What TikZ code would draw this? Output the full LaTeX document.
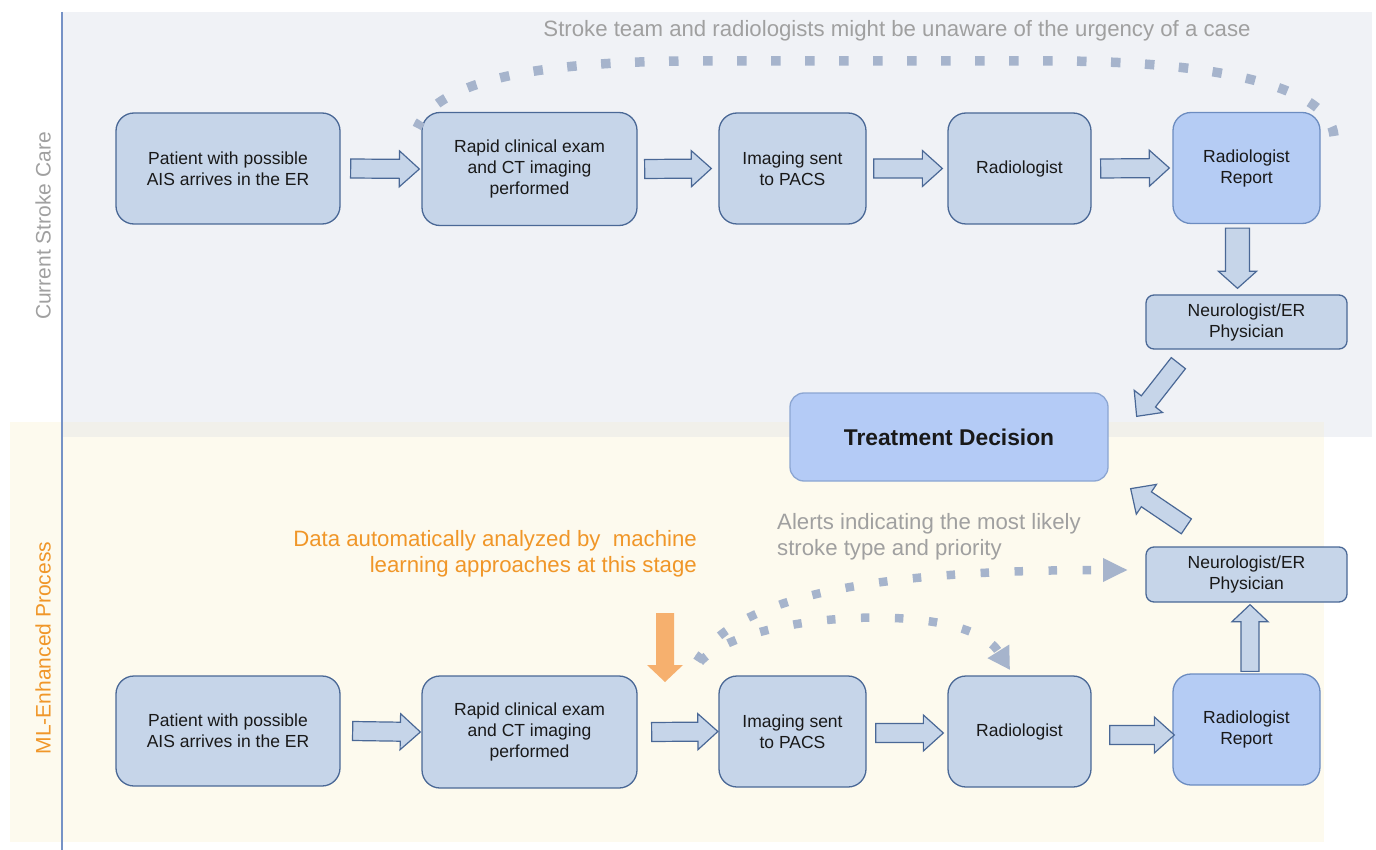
\documentclass[tikz,border=0pt]{standalone}
\usepackage{fontspec}
\setmainfont{Liberation Sans}
\usetikzlibrary{calc,arrows.meta}
\definecolor{bgtop}{RGB}{240,242,246}
\definecolor{bgbot}{RGB}{253,250,238}
\definecolor{bgmix}{RGB}{241,240,234}
\definecolor{laneline}{RGB}{118,146,198}
\definecolor{boxfill}{RGB}{198,213,233}
\definecolor{boxdraw}{RGB}{74,104,150}
\definecolor{repfill}{RGB}{181,204,244}
\definecolor{repdraw}{RGB}{108,140,192}
\definecolor{tdfill}{RGB}{180,203,246}
\definecolor{tddraw}{RGB}{140,166,210}
\definecolor{dotcol}{RGB}{166,180,204}
\definecolor{greytxt}{RGB}{160,160,160}
\definecolor{orangetxt}{RGB}{240,150,40}
\definecolor{orangefill}{RGB}{246,176,110}
\newcommand\blockarrow[6][]{%
  \coordinate (baH) at ($(#3)!#6!(#2)$);%
  \draw[blk,#1] ($(#2)!#4!90:(#3)$) -- ($(baH)!#4!90:(#3)$) -- ($(baH)!#5!90:(#3)$) -- (#3)
     -- ($(baH)!#5!-90:(#3)$) -- ($(baH)!#4!-90:(#3)$) -- ($(#2)!#4!-90:(#3)$) -- cycle;}
\tikzset{
  box/.style={draw=boxdraw, fill=boxfill, line width=1.3pt, rounded corners=18pt,
    align=center, inner sep=0pt, text=black!90, font=\fontsize{17.5}{21}\selectfont},
  repbox/.style={box, fill=repfill, draw=repdraw},
  neubox/.style={box, rounded corners=8pt},
  tdbox/.style={box, fill=tdfill, draw=tddraw, rounded corners=14pt, font=\fontsize{22.8}{26}\selectfont\bfseries},
  blk/.style={draw=boxdraw, fill=boxfill, line width=1.2pt, line join=miter},
  orangearr/.style={draw=none, fill=orangefill},
  dots/.style={draw=dotcol, line width=9.5pt, dash pattern=on 9.5pt off 24.5pt},
  botdots/.style={draw=dotcol, line width=8.5pt, dash pattern=on 8.5pt off 25.5pt},
  lane/.style={rotate=90, inner sep=0pt, font=\fontsize{21}{24}\selectfont},
  note/.style={inner sep=0pt, font=\fontsize{22.2}{26}\selectfont}
}
\begin{document}
\begin{tikzpicture}[x=1pt,y=-1pt]
\useasboundingbox (0,0) rectangle (1376,850);
% backgrounds
\fill[bgbot] (10,422) rectangle (1324,842);
\fill[bgtop] (62,12) rectangle (1372,437);
\fill[bgmix] (62,422) rectangle (1324,437);
\draw[laneline, line width=1.2pt] (62,12) -- (62,850);
% lane labels
\node[lane, text=greytxt] (lane1) at (43,226) {Current Stroke Care};
\node[lane, text=orangetxt] (lane2) at (43,648) {ML-Enhanced Process};
% top row
\node[box, minimum width=224pt, minimum height=111pt] (p1) at (228,168.5) {Patient with possible\\AIS arrives in the ER};
\node[box, minimum width=215pt, minimum height=113pt] (r1) at (529.5,169) {Rapid clinical exam\\and CT imaging\\performed};
\node[box, minimum width=147pt, minimum height=111pt] (i1) at (792.5,168.5) {Imaging sent\\to PACS};
\node[box, minimum width=143pt, minimum height=111pt] (d1) at (1019.5,168.5) {Radiologist};
\node[repbox, minimum width=147pt, minimum height=111pt] (rp1) at (1246.5,168) {Radiologist\\Report};
\node[neubox, minimum width=201pt, minimum height=54pt] (n1) at (1246.5,322) {Neurologist/ER\\Physician};
\node[tdbox, minimum width=318pt, minimum height=88pt] (td) at (949,437) {Treatment Decision};
% bottom row
\node[box, minimum width=224pt, minimum height=110pt] (p2) at (228,731) {Patient with possible\\AIS arrives in the ER};
\node[box, minimum width=215pt, minimum height=112pt] (r2) at (529.5,732) {Rapid clinical exam\\and CT imaging\\performed};
\node[box, minimum width=147pt, minimum height=111pt] (i2) at (792.5,731.5) {Imaging sent\\to PACS};
\node[box, minimum width=143pt, minimum height=111pt] (d2) at (1019.5,731.5) {Radiologist};
\node[repbox, minimum width=147pt, minimum height=111pt] (rp2) at (1246.5,729.5) {Radiologist\\Report};
\node[neubox, minimum width=201pt, minimum height=55pt] (n2) at (1246.5,574.5) {Neurologist/ER\\Physician};
% texts
\node[note, text=greytxt] (toptxt) at (897,30.5) {Stroke team and radiologists might be unaware of the urgency of a case};
\node[note, text=orangetxt, align=right, anchor=east] (mltxt) at (697,554) {Data automatically analyzed by~ machine\\learning approaches at this stage};
\node[note, text=greytxt, align=left, anchor=west] (alerttxt) at (777,536.5) {Alerts indicating the most likely\\stroke type and priority};
% top block arrows
\coordinate (a1s) at ($(p1.east)+(10,0)$);  \coordinate (a1e) at ($(r1.west)+(-2,0)$);
\coordinate (a2s) at ($(r1.east)+(7,0)$);   \coordinate (a2e) at ($(i1.west)+(-7,0)$);
\coordinate (a3s) at ($(i1.east)+(7,0)$);   \coordinate (a3e) at ($(d1.west)+(-5,0)$);
\coordinate (a4s) at ($(d1.east)+(9,0)$);   \coordinate (a4e) at ($(rp1.west)+(-3,0)$);
\coordinate (a5s) at ($(rp1.south)+(-9,4)$); \coordinate (a5e) at ($(n1.north)+(-9,-6)$);
\coordinate (a6s) at ($(n1.south west)+(33,13.5)$); \coordinate (a6e) at ($(td.north east)+(28,24)$);
\blockarrow{a1s}{a1e}{9.5pt}{18pt}{20pt}
\blockarrow{a2s}{a2e}{9.5pt}{18pt}{20pt}
\blockarrow{a3s}{a3e}{9.5pt}{18pt}{20pt}
\blockarrow{a4s}{a4e}{9.5pt}{18pt}{20pt}
\blockarrow{a5s}{a5e}{12pt}{19pt}{17pt}
\blockarrow{a6s}{a6e}{9pt}{18pt}{19pt}
% bottom block arrows
\coordinate (b1s) at ($(p2.east)+(12,0)$);  \coordinate (b1e) at ($(r2.west)+(-1,0)$);
\coordinate (b2s) at ($(r2.east)+(14,0)$);  \coordinate (b2e) at ($(i2.west)+(-0.5,0)$);
\coordinate (b3s) at ($(i2.east)+(9,1.5)$); \coordinate (b3e) at ($(d2.west)+(-4,1.5)$);
\coordinate (b4s) at ($(d2.east)+(18,3.5)$); \coordinate (b4e) at ($(rp2.west)+(2,5.5)$);
\coordinate (b5s) at ($(rp2.north)+(3.5,-2)$); \coordinate (b5e) at ($(n2.south)+(3.5,2)$);
\coordinate (b6s) at ($(n2.north west)+(41,-20)$); \coordinate (b6e) at ($(td.south east)+(22,7)$);
\blockarrow{b1s}{b1e}{9.5pt}{18pt}{20pt}
\blockarrow{b2s}{b2e}{9.5pt}{18pt}{20pt}
\blockarrow{b3s}{b3e}{9.5pt}{18pt}{20pt}
\blockarrow{b4s}{b4e}{9.5pt}{18pt}{20pt}
\blockarrow{b5s}{b5e}{9pt}{18pt}{17pt}
\blockarrow{b6s}{b6e}{9pt}{18pt}{19pt}
% orange arrow
\coordinate (os) at (665,613); \coordinate (oe) at (665,682);
\blockarrow[orangearr]{os}{oe}{9pt}{18pt}{17pt}
% dotted curves
\coordinate (c1) at (417,128); \coordinate (c2) at (1334,136);
\draw[dots] (c2) .. controls (1330,90) and (1230,62) .. (1060,61) -- (700,61) .. controls (560,61) and (440,75) .. (c1);
\coordinate (ca) at (697,661); \coordinate (cae) at (1128,570);
\draw[botdots, -{Triangle[length=25pt,width=22pt]}] (ca) .. controls (740,590) and (900,570) .. (cae);
\coordinate (cb) at (700,662); \coordinate (cbe) at (1010,670);
\draw[botdots, -{Triangle[length=22pt,width=24pt]}] (cb) .. controls (745,612) and (965,598) .. (cbe);
\end{tikzpicture}
\end{document}
